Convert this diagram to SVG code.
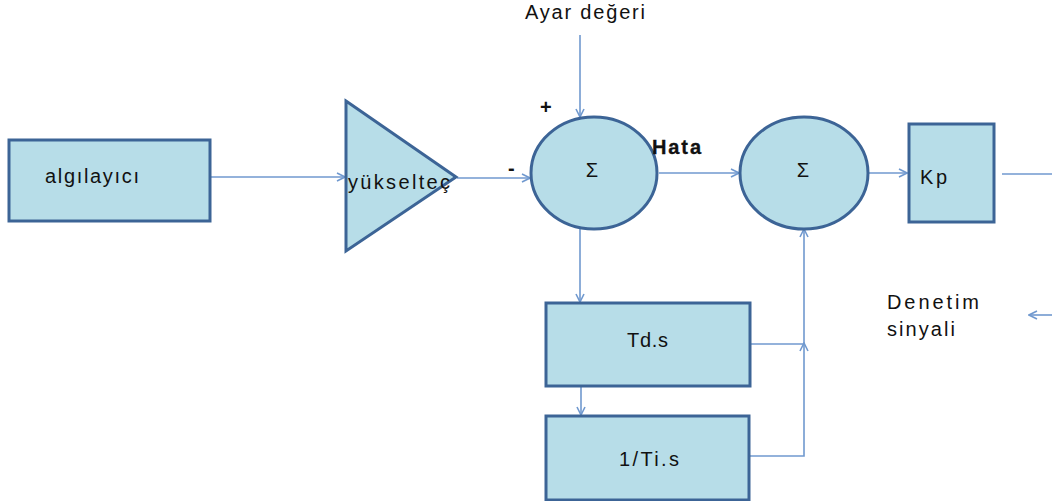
<svg xmlns="http://www.w3.org/2000/svg" width="1052" height="501" viewBox="0 0 1052 501">
<style>
.blk{fill:#b7dde8;stroke:#3c6496;stroke-width:3}
.t{font-family:"Liberation Sans",Arial,sans-serif;font-size:20px;fill:#111}
.c{fill:none;stroke:#7099cf;stroke-width:1.6}
</style>
<defs>
<marker id="ah" viewBox="0 0 10 10" refX="9" refY="5" markerWidth="10" markerHeight="10" markerUnits="userSpaceOnUse" orient="auto">
<path d="M1,1 L9,5 L1,9" fill="none" stroke="#7099cf" stroke-width="1.6"/>
</marker>
</defs>
<rect width="1052" height="501" fill="#fff"/>
<g id="connectors">
<line class="c" x1="205" y1="177" x2="345" y2="177" marker-end="url(#ah)"/>
<line class="c" x1="457" y1="178" x2="530" y2="178" marker-end="url(#ah)"/>
<line class="c" x1="580" y1="35" x2="580" y2="117" marker-end="url(#ah)"/>
<line class="c" x1="659" y1="173" x2="739" y2="173" marker-end="url(#ah)"/>
<line class="c" x1="869" y1="173" x2="907" y2="173" marker-end="url(#ah)"/>
<line class="c" x1="1002" y1="174" x2="1052" y2="174"/>
<line class="c" x1="580" y1="229" x2="580" y2="302" marker-end="url(#ah)"/>
<line class="c" x1="581" y1="387" x2="581" y2="415" marker-end="url(#ah)"/>
<polyline class="c" points="750,344 804,344"/>
<polyline class="c" points="750,456 804,456 804,343" marker-end="url(#ah)"/>
<line class="c" x1="804" y1="343" x2="804" y2="229" marker-end="url(#ah)"/>
<line class="c" x1="1052" y1="315" x2="1029" y2="315" marker-end="url(#ah)"/>
</g>
<g id="algilayici">
<rect class="blk" x="9" y="140" width="201" height="81"/>
<text class="t" x="45" y="183" textLength="94">algılayıcı</text>
</g>
<g id="yukseltec">
<polygon class="blk" points="346,101 456,177 346,251"/>
<text class="t" x="348" y="189" textLength="102">yükselteç</text>
</g>
<g id="ayar">
<text class="t" x="525" y="19" textLength="120">Ayar değeri</text>
<text class="t" x="540" y="114" font-weight="bold">+</text>
<text class="t" x="508" y="175" font-weight="bold">-</text>
</g>
<g id="sum1">
<ellipse class="blk" cx="594" cy="173" rx="63" ry="56"/>
<text class="t" x="592" y="177" text-anchor="middle" font-size="22">Σ</text>
</g>
<text class="t" x="652" y="154" textLength="49" style="font-weight:600;stroke:#111;stroke-width:0.3">Hata</text>
<g id="sum2">
<ellipse class="blk" cx="804" cy="173" rx="64" ry="56"/>
<text class="t" x="803" y="177" text-anchor="middle" font-size="22">Σ</text>
</g>
<g id="kp">
<rect class="blk" x="909" y="124" width="85" height="98"/>
<text class="t" x="920" y="184" textLength="27">Kp</text>
</g>
<g id="denetim">
<text class="t" x="887" y="309" textLength="92">Denetim</text>
<text class="t" x="887" y="336" textLength="68">sinyali</text>
</g>
<g id="td">
<rect class="blk" x="546" y="303" width="204" height="83"/>
<text class="t" x="627" y="347" textLength="41">Td.s</text>
</g>
<g id="ti">
<rect class="blk" x="546" y="416" width="203" height="84"/>
<text class="t" x="619" y="466" textLength="60">1/Ti.s</text>
</g>
</svg>
